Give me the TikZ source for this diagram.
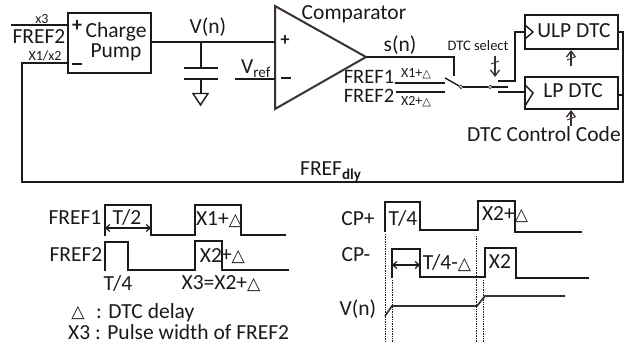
\documentclass[tikz,border=0pt]{standalone}
\usepackage{fontspec}
\setmainfont{Carlito}
\newfontfamily\symf{DejaVu Sans}
\usetikzlibrary{arrows.meta,calc}
\newcommand{\dlt}{{\symf\fontsize{0.8em}{1em}\selectfont △}}
\definecolor{ink}{HTML}{1A1A1A}
\definecolor{brownink}{HTML}{3B3030}
\tikzset{
  x=1pt,y=-1pt,
  wire/.style={draw=ink,line width=2pt},
  thin wire/.style={draw=ink,line width=1.4pt},
  block/.style={draw=ink,line width=2.1pt,fill=white,inner sep=0pt,anchor=north west},
  lab/.style={text=ink,inner sep=0pt,font=\fontsize{21.5}{23}\selectfont},
  small/.style={text=ink,inner sep=0pt,font=\fontsize{14}{16}\selectfont},
  wave/.style={draw=ink,line width=2pt,line join=miter},
  guide/.style={draw=ink,line width=0.7pt,densely dotted},
  pin/.style={draw=ink,fill=white,line width=0.7pt,circle,inner sep=0pt,minimum size=3.5pt},
  dim/.style={draw=ink,line width=1.2pt,{Straight Barb[length=4pt,width=7pt]}-{Straight Barb[length=4pt,width=7pt]}},
  ctl/.style={draw=brownink,line width=1.3pt,-{Straight Barb[length=6pt,width=9pt]}},
}
\begin{document}
\begin{tikzpicture}
\useasboundingbox (0,0) rectangle (634,347);
% blocks
\node[block,minimum width=83pt,minimum height=60pt] (cp) at (67,12) {};
\node[block,minimum width=93pt,minimum height=34pt] (ulp) at (524,14) {};
\node[block,minimum width=93pt,minimum height=32pt] (lp) at (524,76) {};
\node[lab,align=center,font=\fontsize{21.5}{20}\selectfont] (cptxt) at (116,42) {Charge\\Pump};
\node[lab] (ulptxt) at (574,31) {ULP DTC};
\node[lab] (lptxt) at (573,91) {LP DTC};
\node[lab,font=\bfseries\fontsize{20}{20}\selectfont] (cpplus) at (77,26) {+};
\draw[wire] (72,64) -- (82,64);
% comparator
\coordinate (ca) at (275,6); \coordinate (cb) at (275,109); \coordinate (cout) at (366,57);
\draw[draw=brownink,line width=2pt,line join=miter] (ca) -- (cout) -- (cb) -- cycle;
\coordinate (cin1) at (275,42); \coordinate (cin2) at (275,79);
\node[lab,font=\bfseries\fontsize{18}{18}\selectfont] (cmpplus) at (285,41) {+};
\draw[wire] (281,78.5) -- (291,78.5);
\node[lab] (cmptxt) at (354,14) {Comparator};
% inputs
\coordinate (x3s) at (11,25);
\draw[wire] (x3s) -- (x3s -| cp.west);
\node[small] (x3t) at (42,19) {x3};
\node[lab] (f2t) at (39,37) {FREF2};
\node[small] (x12t) at (45,56) {X1/x2};
% V(n) and capacitor
\draw[wire] (cp.east |- cin1) -- (cin1);
\node[lab] (vnt) at (208,27) {V(n)};
\coordinate (capt) at (201,42); \coordinate (p1) at (201,68); \coordinate (p2) at (201,79); \coordinate (gnd) at (201,93);
\draw[wire] (capt) -- (p1);
\draw[wire] (184,68) -- (218,68);
\draw[wire] (184,79) -- (218,79);
\draw[wire] (p2) -- (gnd);
\draw[thin wire,line join=miter] (193,93.5) -- (208,93.5) -- (200.5,105) -- cycle;
% Vref
\coordinate (vrefs) at (235,79);
\draw[wire] (vrefs) -- (cin2);
\node[lab,anchor=base west] (vreft) at (241,74) {V\textsubscript{ref}};
% s(n)
\coordinate (sw1) at (454,57); \coordinate (sw2) at (454,76);
\draw[wire] (cout) -- (sw1) -- (sw2);
\node[lab] (snt) at (400,45) {s(n)};
\node[pin] (sa) at (461,87) {};
\node[pin] (sb) at (490,87) {};
\coordinate (blade) at (445,78);
\draw[thin wire] (blade) -- (sa);
\draw[thin wire] (sa) -- (sb);
\coordinate (tap) at (508,87);
\draw[thin wire] (sb) -- (tap);
% inputs to switch
\draw[wire] (395,83) -- (445,83);
\draw[wire] (396,92) -- (445,92);
\node[lab,font=\fontsize{20.5}{20}\selectfont] (f1b) at (369,76.5) {FREF1};
\node[lab,font=\fontsize{20.5}{20}\selectfont] (f2b) at (369,96) {FREF2};
\node[small] (x1d) at (416,74) {X1+\dlt};
\node[small] (x2d) at (416,102) {X2+\dlt};
% outputs of selector
\draw[wire,line join=miter] (498,81.5) -- (515,81.5) |- (ulp.west |- 0,32);
\draw[wire] (498,92.5) -- (lp.west |- 0,92.5);
\draw[thin wire,line join=miter] (525,25) -- (533,32) -- (525,39);
\draw[thin wire,line join=miter] (525,85) -- (533,93) -- (525,106);
% DTC select
\node[small,font=\fontsize{14.5}{16}\selectfont] (dsel) at (478,46) {DTC select};
\coordinate (dsa) at (495,56); \coordinate (dsb) at (495,77);
\draw[ctl] (dsa) -- (dsb);
\draw[draw=brownink,line width=0.9pt] (491,64) -- (499,61);
% control arrows
\coordinate (uca) at (571,66); \coordinate (ucb) at (571,50);
\draw[ctl] (uca) -- (ucb);
\draw[draw=brownink,line width=0.9pt] (567,60) -- (575,57);
\coordinate (lca) at (571,126); \coordinate (lcb) at (571,110);
\draw[ctl] (lca) -- (lcb);
\draw[draw=brownink,line width=0.9pt] (567,120) -- (575,117);
\node[lab] (ctxt) at (544,134) {DTC Control Code};
% feedback
\coordinate (fb1) at (22,63); \coordinate (fb2) at (22,182); \coordinate (fb3) at (623,182); \coordinate (fb4) at (623,32);
\draw[wire,line join=miter] (cp.west |- fb1) -- (fb1) -- (fb2) -- (fb3) -- (fb4) -- (ulp.east |- fb4);
\draw[wire] (lp.east |- 0,95) -- (623,95);
\node[lab,anchor=base west] (fdly) at (300,176) {FREF\textsubscript{\textbf{dly}}};
% left waveforms
\draw[wave] (105,236) |- (151,205) |- (195,235) |- (241,205) |- (286,235);
\draw[wave] (105,271) |- (128,242) |- (195,270) |- (222,241) |- (289,270);
\node[lab] (wf1) at (75,218) {FREF1};
\node[lab] (wf2) at (76,255) {FREF2};
\node[lab] (tt2) at (127,217) {T/2};
\coordinate (da1) at (105,228); \coordinate (da2) at (151,228);
\draw[dim] (da1) -- (da2);
\node[lab] (lx1) at (219,220) {X1+\dlt};
\node[lab] (lx2) at (211,256) {X2};
\node[lab] (lpd) at (233,257) {+\dlt};
\node[lab] (tt4) at (118,283) {T/4};
\node[lab] (lx3) at (221,284) {X3=X2+\dlt};
\node[lab] (nt1s) at (78,313) {\dlt};
\node[lab,anchor=west] (nt1) at (96,313) {: DTC delay};
\node[lab,anchor=west] (nt2) at (68,332) {X3 : Pulse width of FREF2};
% right waveforms
\draw[wave] (385,232) |- (420,202) |- (477.5,230) |- (515,201) |- (582,232);
\draw[wave] (392,278) |- (420,249) |- (485,277) |- (516,248) |- (589,278);
\draw[draw=brownink,line width=1.7pt] (385,316) -- (392,306) -- (477,306) -- (485,296) -- (565,296);
\draw[guide] (385,234) -- (385,342);
\draw[guide] (392,280) -- (392,342);
\draw[guide] (476,236) -- (476,342);
\draw[guide] (483,280) -- (483,342);
\node[lab] (cpp) at (358,219) {CP+};
\node[lab] (cpm) at (356,255) {CP-};
\node[lab] (rvn) at (358,309) {V(n)};
\node[lab] (rt4) at (403,218) {T/4};
\node[lab] (rx2d) at (505,215) {X2+\dlt};
\coordinate (db1) at (392,265); \coordinate (db2) at (420,265);
\draw[dim] (db1) -- (db2);
\node[lab] (rt4d) at (447,263) {T/4-\dlt};
\node[lab] (rx2) at (500,262) {X2};
\end{tikzpicture}
\end{document}
